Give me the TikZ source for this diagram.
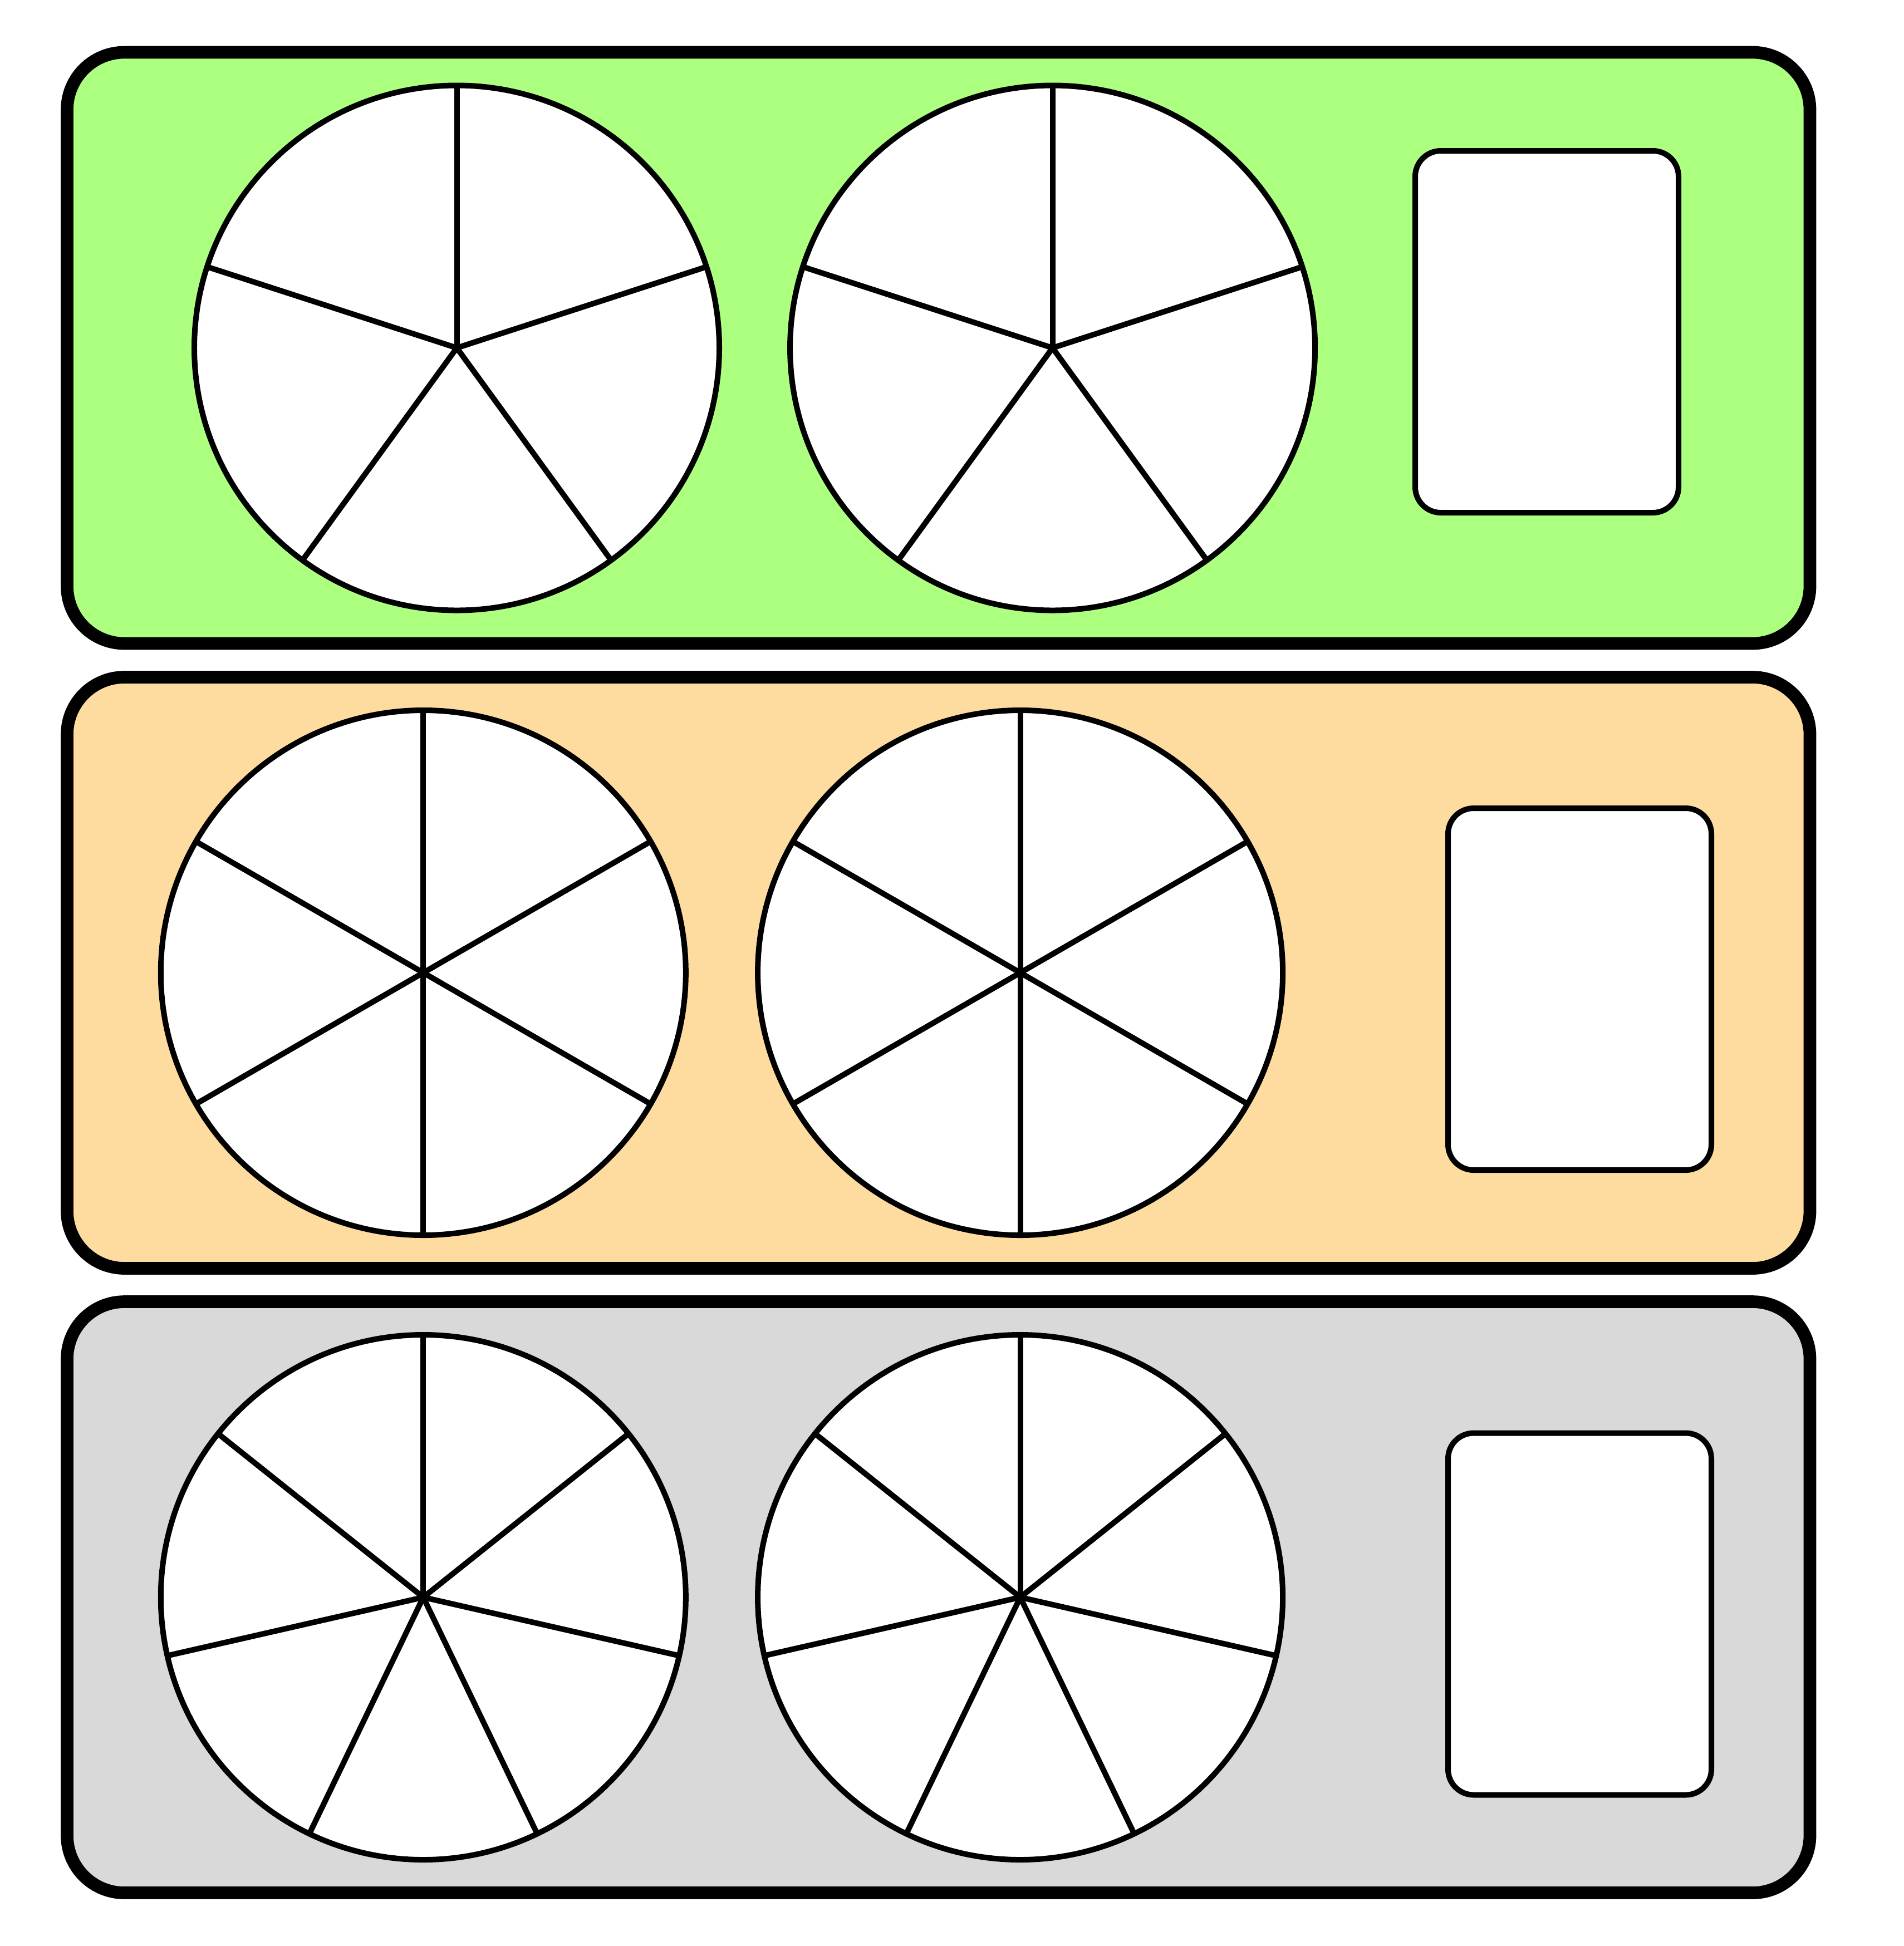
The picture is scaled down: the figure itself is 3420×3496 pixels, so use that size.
\documentclass[tikz,border=0pt]{standalone}
\definecolor{pgreen}{RGB}{173,255,128}
\definecolor{ppeach}{RGB}{254,220,160}
\definecolor{pgray}{RGB}{217,217,217}
\begin{document}
\begin{tikzpicture}[x=0.2pt,y=-0.2pt,
  panel/.style={draw=black,line width=4.54pt,rounded corners=20.6pt},
  pie/.style={circle,draw=black,fill=white,line width=2pt,minimum size=188.6pt,inner sep=0pt,outer sep=0pt},
  spoke/.style={draw=black,line width=2pt},
  answer/.style={draw=black,fill=white,line width=2pt,rounded corners=9.2pt,
    minimum width=94.6pt,minimum height=130pt,inner sep=0pt,outer sep=0pt}]
\useasboundingbox (0,0) rectangle (3420,3496);
% panels
\draw[panel,fill=pgreen] (120.5,94) rectangle (3251,1156);
\draw[panel,fill=ppeach] (120.5,1216.5) rectangle (3251,2278.5);
\draw[panel,fill=pgray] (120.5,2338.5) rectangle (3251,3400.5);
% panel 1: fifths
\node[pie] (a1) at (820.5,625) {};
\node[pie] (a2) at (1890.6,625) {};
\foreach \c in {a1,a2}{
  \foreach \k in {0,...,4}{\pgfmathsetmacro\ang{90-72*\k}
    \draw[spoke] (\c.center) -- ++({471.5*cos(\ang)},{-471.5*sin(\ang)});}
}
\node[answer] (r1) at (2778.5,596) {};
% panel 2: sixths
\node[pie] (b1) at (760.3,1747.5) {};
\node[pie] (b2) at (1832.6,1747.5) {};
\foreach \c in {b1,b2}{
  \foreach \k in {0,...,5}{\pgfmathsetmacro\ang{90-60*\k}
    \draw[spoke] (\c.center) -- ++({471.5*cos(\ang)},{-471.5*sin(\ang)});}
}
\node[answer] (r2) at (2837.5,1777) {};
% panel 3: sevenths
\node[pie] (c1) at (760.3,2869.5) {};
\node[pie] (c2) at (1832.6,2869.5) {};
\foreach \c in {c1,c2}{
  \foreach \k in {0,...,6}{\pgfmathsetmacro\ang{90-360/7*\k}
    \draw[spoke] (\c.center) -- ++({471.5*cos(\ang)},{-471.5*sin(\ang)});}
}
\node[answer] (r3) at (2837.5,2899.5) {};
\end{tikzpicture}
\end{document}
